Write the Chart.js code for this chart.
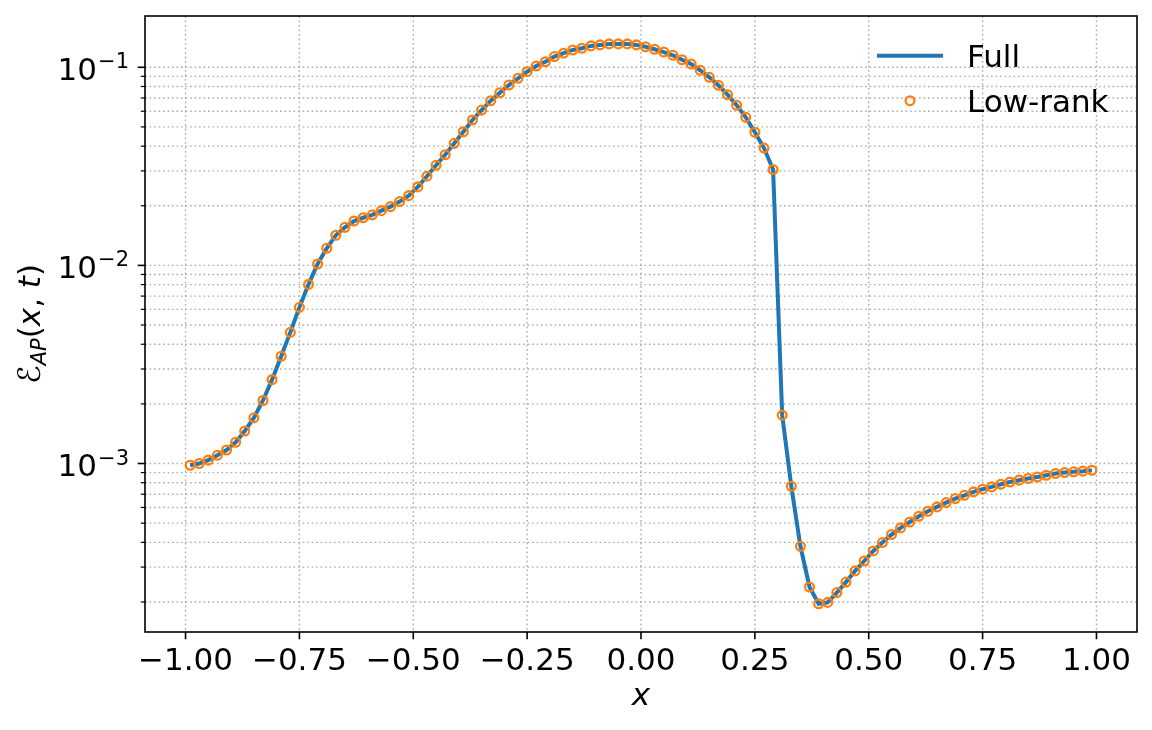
<!DOCTYPE html>
<html>
<head>
<meta charset="utf-8">
<script src="https://cdn.jsdelivr.net/npm/chart.js@4.4.1/dist/chart.umd.min.js"></script>
<style>
html,body{margin:0;padding:0;background:#ffffff;}
canvas{display:block;}
</style>
</head>
<body>
<canvas id="c" width="1152" height="730"></canvas>
<script>
// ---------- data ----------
const xValues = [
  -0.99,-0.97,-0.95,-0.93,-0.91,-0.89,-0.87,-0.85,-0.83,-0.81,
  -0.79,-0.77,-0.75,-0.73,-0.71,-0.69,-0.67,-0.65,-0.63,-0.61,
  -0.59,-0.57,-0.55,-0.53,-0.51,-0.49,-0.47,-0.45,-0.43,-0.41,
  -0.39,-0.37,-0.35,-0.33,-0.31,-0.29,-0.27,-0.25,-0.23,-0.21,
  -0.19,-0.17,-0.15,-0.13,-0.11,-0.09,-0.07,-0.05,-0.03,-0.01,
   0.01, 0.03, 0.05, 0.07, 0.09, 0.11, 0.13, 0.15, 0.17, 0.19,
   0.21, 0.23, 0.25, 0.27, 0.29, 0.31, 0.33, 0.35, 0.37, 0.39,
   0.41, 0.43, 0.45, 0.47, 0.49, 0.51, 0.53, 0.55, 0.57, 0.59,
   0.61, 0.63, 0.65, 0.67, 0.69, 0.71, 0.73, 0.75, 0.77, 0.79,
   0.81, 0.83, 0.85, 0.87, 0.89, 0.91, 0.93, 0.95, 0.97, 0.99
];
const fullValues = [
  9.8e-4, 1.0e-3, 1.04e-3, 1.10e-3, 1.17e-3, 1.28e-3, 1.46e-3, 1.70e-3, 2.08e-3, 2.65e-3,
  3.48e-3, 4.59e-3, 6.14e-3, 8.02e-3, 1.016e-2, 1.22e-2, 1.42e-2, 1.556e-2, 1.675e-2, 1.74e-2,
  1.80e-2, 1.89e-2, 1.98e-2, 2.10e-2, 2.25e-2, 2.49e-2, 2.82e-2, 3.20e-2, 3.62e-2, 4.13e-2,
  4.73e-2, 5.42e-2, 6.08e-2, 6.78e-2, 7.44e-2, 8.14e-2, 8.80e-2, 9.50e-2, 0.1015, 0.1067,
  0.1132, 0.1178, 0.1223, 0.1247, 0.1282, 0.1297, 0.1312, 0.1312, 0.1312, 0.1297,
  0.1270, 0.1233, 0.1194, 0.1150, 0.1092, 0.1039, 0.0966, 0.0890, 0.0811, 0.0727,
  0.0643, 0.0559, 0.0470, 0.0391, 0.0305, 1.754e-3, 7.68e-4, 3.82e-4, 2.38e-4, 1.96e-4,
  1.99e-4, 2.23e-4, 2.52e-4, 2.87e-4, 3.22e-4, 3.62e-4, 3.99e-4, 4.38e-4, 4.73e-4, 5.07e-4,
  5.42e-4, 5.74e-4, 6.04e-4, 6.35e-4, 6.65e-4, 6.91e-4, 7.19e-4, 7.42e-4, 7.62e-4, 7.86e-4,
  8.07e-4, 8.24e-4, 8.40e-4, 8.55e-4, 8.72e-4, 8.90e-4, 9.01e-4, 9.08e-4, 9.15e-4, 9.25e-4
];
// the low-rank markers sit exactly on the full curve in the picture
const lowRankValues = fullValues.slice();

const xTickValues = [-1.0, -0.75, -0.5, -0.25, 0.0, 0.25, 0.5, 0.75, 1.0];
const xTickLabels = ["\u22121.00", "\u22120.75", "\u22120.50", "\u22120.25", "0.00", "0.25", "0.50", "0.75", "1.00"];
const yMajorValues = [1e-3, 1e-2, 1e-1];
const yMajorLabels = [["10", "\u22123"], ["10", "\u22122"], ["10", "\u22121"]];
const yMinorValues = [
  2e-4, 3e-4, 4e-4, 5e-4, 6e-4, 7e-4, 8e-4, 9e-4,
  2e-3, 3e-3, 4e-3, 5e-3, 6e-3, 7e-3, 8e-3, 9e-3,
  2e-2, 3e-2, 4e-2, 5e-2, 6e-2, 7e-2, 8e-2, 9e-2
];
const seriesNames = ["Full", "Low-rank"];

// ---------- styling ----------
const BLUE = "#1f77b4";
const ORANGE = "#ff7f0e";
const FONT = '"DejaVu Sans", "Liberation Sans", sans-serif';
const FS = 31;

const decor = {
  id: "decor",
  beforeDatasetsDraw(chart) {
    const { ctx, chartArea: a, scales: { x, y } } = chart;
    ctx.save();
    ctx.beginPath();
    ctx.rect(a.left, a.top, a.right - a.left, a.bottom - a.top);
    ctx.clip();
    ctx.strokeStyle = "#b0b0b0";
    ctx.lineWidth = 1.4;
    ctx.setLineDash([1.7, 2.8]);
    for (const v of xTickValues) {
      const px = x.getPixelForValue(v);
      ctx.beginPath(); ctx.moveTo(px, a.top); ctx.lineTo(px, a.bottom); ctx.stroke();
    }
    for (const v of yMajorValues.concat(yMinorValues)) {
      const py = y.getPixelForValue(v);
      if (py < a.top || py > a.bottom) continue;
      ctx.beginPath(); ctx.moveTo(a.left, py); ctx.lineTo(a.right, py); ctx.stroke();
    }
    ctx.restore();
  },
  afterDraw(chart) {
    const { ctx, chartArea: a, scales: { x, y } } = chart;
    ctx.save();
    // frame
    ctx.strokeStyle = "#000";
    ctx.lineWidth = 1.6;
    ctx.strokeRect(a.left, a.top, a.right - a.left, a.bottom - a.top);
    // x ticks
    for (const v of xTickValues) {
      const px = x.getPixelForValue(v);
      ctx.beginPath(); ctx.moveTo(px, a.bottom); ctx.lineTo(px, a.bottom + 7.3); ctx.stroke();
    }
    // y ticks
    for (const v of yMajorValues) {
      const py = y.getPixelForValue(v);
      ctx.lineWidth = 1.6;
      ctx.beginPath(); ctx.moveTo(a.left - 7.3, py); ctx.lineTo(a.left, py); ctx.stroke();
    }
    for (const v of yMinorValues) {
      const py = y.getPixelForValue(v);
      if (py < a.top || py > a.bottom) continue;
      ctx.lineWidth = 1.2;
      ctx.beginPath(); ctx.moveTo(a.left - 4.2, py); ctx.lineTo(a.left, py); ctx.stroke();
    }
    // y tick labels (10 with superscript exponent)
    ctx.fillStyle = "#000";
    ctx.textBaseline = "alphabetic";
    yMajorValues.forEach((v, i) => {
      const py = y.getPixelForValue(v);
      const right = a.left - 16;
      ctx.font = "21px " + FONT;
      ctx.textAlign = "right";
      const supW = ctx.measureText(yMajorLabels[i][1]).width;
      ctx.fillText(yMajorLabels[i][1], right, py + 1);
      ctx.font = FS + "px " + FONT;
      ctx.fillText(yMajorLabels[i][0], right - supW - 1, py + 12.8);
    });
    // x title
    ctx.textAlign = "center";
    ctx.font = "italic " + FS + "px " + FONT;
    ctx.fillText("x", (a.left + a.right) / 2, 705);
    // y title: E_AP(x, t)
    const parts = [
      { t: "\u2130", f: FS + "px " + FONT, dy: 0 },
      { t: "AP", f: "italic 21px " + FONT, dy: 6 },
      { t: "(", f: FS + "px " + FONT, dy: 0 },
      { t: "x", f: "italic " + FS + "px " + FONT, dy: 0 },
      { t: ", ", f: FS + "px " + FONT, dy: 0 },
      { t: "t", f: "italic " + FS + "px " + FONT, dy: 0 },
      { t: ")", f: FS + "px " + FONT, dy: 0 }
    ];
    let total = 0;
    for (const p of parts) { ctx.font = p.f; p.w = ctx.measureText(p.t).width; total += p.w; }
    ctx.save();
    ctx.translate(40, (a.top + a.bottom) / 2);
    ctx.rotate(-Math.PI / 2);
    ctx.textAlign = "left";
    let cx = -total / 2;
    for (const p of parts) { ctx.font = p.f; ctx.fillText(p.t, cx, p.dy); cx += p.w; }
    ctx.restore();
    // legend (no frame)
    ctx.strokeStyle = BLUE;
    ctx.lineWidth = 4;
    ctx.beginPath(); ctx.moveTo(877, 55.7); ctx.lineTo(943, 55.7); ctx.stroke();
    ctx.strokeStyle = ORANGE;
    ctx.lineWidth = 2.3;
    ctx.beginPath(); ctx.arc(910, 100.7, 4.4, 0, Math.PI * 2); ctx.stroke();
    ctx.fillStyle = "#000";
    ctx.textAlign = "left";
    ctx.font = FS + "px " + FONT;
    ctx.fillText(seriesNames[0], 967, 66.7);
    ctx.fillText(seriesNames[1], 967, 111.7);
    ctx.restore();
  }
};

new Chart(document.getElementById("c"), {
  type: "line",
  data: {
    datasets: [
      {
        label: seriesNames[0],
        data: xValues.map((xv, i) => ({ x: xv, y: fullValues[i] })),
        borderColor: BLUE,
        borderWidth: 4,
        pointRadius: 0,
        tension: 0,
        fill: false,
        order: 2
      },
      {
        label: seriesNames[1],
        data: xValues.map((xv, i) => ({ x: xv, y: lowRankValues[i] })),
        showLine: false,
        pointStyle: "circle",
        pointRadius: 4.4,
        pointBorderWidth: 2.3,
        pointBorderColor: ORANGE,
        pointBackgroundColor: "rgba(0,0,0,0)",
        order: 1
      }
    ]
  },
  options: {
    responsive: false,
    animation: false,
    devicePixelRatio: 1,
    layout: { padding: { top: 16, right: 15, left: 0, bottom: 0 } },
    plugins: { legend: { display: false }, tooltip: { enabled: false } },
    scales: {
      x: {
        type: "linear",
        min: -1.089,
        max: 1.089,
        afterBuildTicks: (s) => { s.ticks = xTickValues.map(v => ({ value: v })); },
        afterFit: (s) => { s.height = 98; },
        grid: { display: false, drawTicks: false },
        border: { display: false },
        ticks: {
          autoSkip: false,
          maxRotation: 0,
          padding: 11,
          color: "#000",
          font: { family: FONT, size: FS },
          callback: (v, i) => xTickLabels[i]
        }
      },
      y: {
        type: "logarithmic",
        min: 1.411e-4,
        max: 0.1815,
        afterBuildTicks: (s) => { s.ticks = yMajorValues.map(v => ({ value: v })); },
        afterFit: (s) => { s.width = 145; },
        grid: { display: false, drawTicks: false },
        border: { display: false },
        ticks: { display: false }
      }
    }
  },
  plugins: [decor]
});
</script>
</body>
</html>
